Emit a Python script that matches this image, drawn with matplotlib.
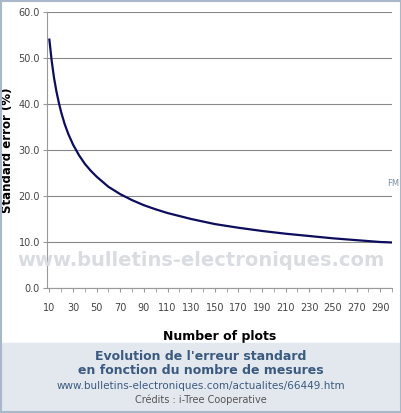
import matplotlib
matplotlib.use("Agg")
import matplotlib.pyplot as plt
from matplotlib.patches import Rectangle

plots = [10, 12, 14, 16, 18, 20, 23, 26, 30, 35, 40, 45, 50, 60, 70, 80, 90, 100, 110, 130, 150, 170, 190, 210, 230, 250, 270, 290, 300]
std_err = [54.0, 49.3, 45.6, 42.7, 40.3, 38.2, 35.6, 33.5, 31.2, 28.9, 27.0, 25.5, 24.2, 22.0, 20.4, 19.1, 18.0, 17.1, 16.3, 15.0, 13.9, 13.1, 12.4, 11.8, 11.3, 10.8, 10.4, 10.0, 9.9]
yticks = [0, 10, 20, 30, 40, 50, 60]
xticks_lab = list(range(10, 300, 20))

fig = plt.figure(figsize=(4.02, 4.13), dpi=100)
fig.patches.append(Rectangle((0, 0), 1, 70/413, transform=fig.transFigure, color="#e3e8ee", zorder=0))
fig.patches.append(Rectangle((0.002, 0.002), 0.996, 0.996, transform=fig.transFigure, fill=False, edgecolor="#a9b8c8", lw=1.5, zorder=5))

ax = fig.add_axes([47/402, 125/413, 345/402, 276/413])
ax.plot(plots, std_err, color="#0d0d5e", lw=1.6)
ax.set_xlim(8, 300)
ax.set_ylim(0, 60)
ax.set_yticks(yticks)
ax.set_yticklabels([f"{v:.1f}" for v in yticks], fontsize=7, color="#444")
ax.set_xticks(list(range(10, 301, 10)), minor=True)
ax.set_xticks(xticks_lab)
ax.set_xticklabels([str(v) for v in xticks_lab], fontsize=7, color="#444")
ax.tick_params(axis="x", which="both", length=3, color="#999", pad=8)
ax.tick_params(axis="y", length=3, color="#999", pad=2)
ax.grid(axis="y", color="#888", lw=0.8)
for s in ["top", "right"]:
    ax.spines[s].set_visible(False)
ax.spines["left"].set_color("#999")
ax.spines["bottom"].set_color("#999")
ax.set_ylabel("Standard error (%)", fontsize=8.5, fontweight="bold", labelpad=3)
ax.set_xlabel("Number of plots", fontsize=9, fontweight="bold", labelpad=12)
ax.text(0.985, 0.37, "FM", transform=ax.transAxes, fontsize=6, color="#7a8ea6")

fig.text(0.5, 1 - 260/413, "www.bulletins-electroniques.com", ha="center", va="center",
         fontsize=14, fontweight="bold", color="#d9dde2", zorder=10)
fig.text(0.5, 1 - 356/413, "Evolution de l'erreur standard", ha="center", va="center", fontsize=9, fontweight="bold", color="#3b5a80")
fig.text(0.5, 1 - 370/413, "en fonction du nombre de mesures", ha="center", va="center", fontsize=9, fontweight="bold", color="#3b5a80")
fig.text(0.5, 1 - 386/413, "www.bulletins-electroniques.com/actualites/66449.htm", ha="center", va="center", fontsize=7.5, color="#3b5a80")
fig.text(0.5, 1 - 400/413, "Crédits : i-Tree Cooperative", ha="center", va="center", fontsize=7, color="#555")
fig.savefig("out.png", dpi=100)
